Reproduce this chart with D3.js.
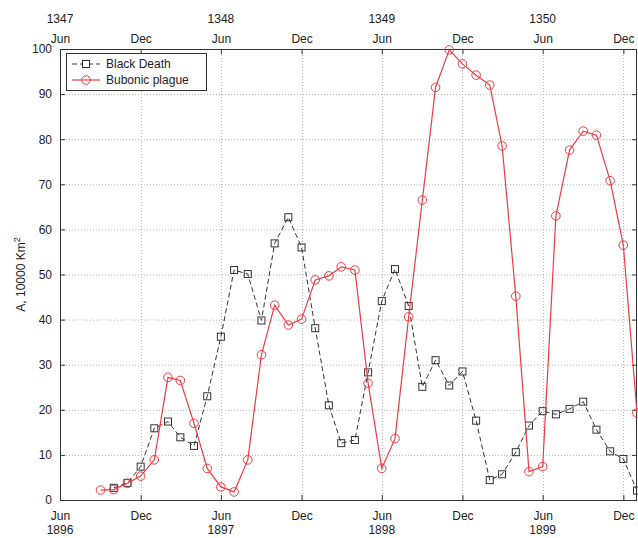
<!DOCTYPE html>
<html><head><meta charset="utf-8">
<script src="https://cdn.jsdelivr.net/npm/d3@7"></script>
<style>
body{margin:0;background:#fff;}
text{font-family:"Liberation Sans",Arial,sans-serif;fill:#222;}
</style></head>
<body><svg id="c" width="638" height="538"></svg>
<script>
const months = ["1896-09","1896-10","1896-11","1896-12",
"1897-01","1897-02","1897-03","1897-04","1897-05","1897-06","1897-07","1897-08","1897-09","1897-10","1897-11","1897-12",
"1898-01","1898-02","1898-03","1898-04","1898-05","1898-06","1898-07","1898-08","1898-09","1898-10","1898-11","1898-12",
"1899-01","1899-02","1899-03","1899-04","1899-05","1899-06","1899-07","1899-08","1899-09","1899-10","1899-11","1899-12",
"1900-01"];
const bubonicPlague = [2.2,2.3,3.7,5.3,8.9,27.2,26.5,17,7,2.9,1.8,
8.9,32.2,43.2,38.8,40.1,48.8,49.7,51.7,51,25.9,
7.0,13.6,40.6,66.5,91.5,99.8,96.7,94.2,92,78.5,
45.2,6.3,7.4,63,77.6,81.8,80.9,70.8,56.5,19.3];
const blackDeath = [null,2.7,3.8,7.4,15.9,17.4,13.9,12.0,23,36.2,51,
50.1,39.8,56.9,62.7,56,38.1,21,12.6,13.3,28.3,
44.1,51.2,43,25.1,31,25.4,28.5,17.6,4.4,5.7,
10.6,16.5,19.7,19,20.2,21.8,15.6,10.8,9.1,2.1];
const tickMonths = ["1896-06","1896-12","1897-06","1897-12","1898-06","1898-12","1899-06","1899-12"];
const tickLabels = ["Jun","Dec","Jun","Dec","Jun","Dec","Jun","Dec"];
const bottomYears = ["1896","1897","1898","1899"];
const topYears = ["1347","1348","1349","1350"];
const yearTickMonths = ["1896-06","1897-06","1898-06","1899-06"];
const yTicks = [0,10,20,30,40,50,60,70,80,90,100];
const seriesNames = ["Black Death","Bubonic plague"];

const parse = d3.timeParse("%Y-%m");
const L=60,R=637,T=49,B=500;
const x = d3.scaleTime().domain([parse("1896-06"),parse("1900-01")]).range([L,R]);
const y = d3.scaleLinear().domain([0,100]).range([B,T]);
const svg = d3.select("#c");
const red="#ee3b42", blk="#333";

// grid
const g = svg.append("g");
g.selectAll(".gy").data(yTicks.slice(1,-1)).enter().append("line")
 .attr("x1",L).attr("x2",R).attr("y1",d=>y(d)+0.5).attr("y2",d=>y(d)+0.5)
 .attr("stroke","#b4b4b4").attr("stroke-width",1).attr("stroke-dasharray","1,2");
g.selectAll(".gx").data(tickMonths.slice(1)).enter().append("line")
 .attr("y1",T).attr("y2",B).attr("x1",d=>Math.round(x(parse(d)))+0.5).attr("x2",d=>Math.round(x(parse(d)))+0.5)
 .attr("stroke","#b4b4b4").attr("stroke-width",1).attr("stroke-dasharray","1,2");

// axes
const tv = tickMonths.map(parse);
const fmt = d=>tickLabels[tv.findIndex(t=>+t===+d)];
const ax = (gen,tx,ty)=>{const a=svg.append("g").attr("transform",`translate(${tx},${ty})`).call(gen);
 a.select(".domain").remove(); a.selectAll("line").attr("stroke","#333"); a.selectAll("text").attr("font-size",12).attr("fill","#222").style("font-family","'Liberation Sans',Arial,sans-serif"); return a;};
ax(d3.axisBottom(x).tickValues(tv).tickFormat(fmt).tickSizeInner(-5).tickSizeOuter(0).tickPadding(11),0,B);
ax(d3.axisTop(x).tickValues(tv).tickFormat(fmt).tickSizeInner(-5).tickSizeOuter(0).tickPadding(6),0,T);
ax(d3.axisLeft(y).tickValues(yTicks).tickSizeInner(-5).tickSizeOuter(0).tickPadding(8),L,0);
ax(d3.axisRight(y).tickValues(yTicks).tickFormat("").tickSizeInner(-5).tickSizeOuter(0),R,0);
svg.append("rect").attr("x",L+0.5).attr("y",T+0.5).attr("width",R-L-1).attr("height",B-T)
 .attr("fill","none").attr("stroke","#333").attr("stroke-width",1);

// year labels
svg.selectAll(".by").data(bottomYears).enter().append("text")
 .attr("x",(d,i)=>x(parse(yearTickMonths[i]))).attr("y",534).attr("text-anchor","middle").attr("font-size",12).text(d=>d);
svg.selectAll(".ty").data(topYears).enter().append("text")
 .attr("x",(d,i)=>x(parse(yearTickMonths[i]))).attr("y",23).attr("text-anchor","middle").attr("font-size",12).text(d=>d);

// y label
const yl = svg.append("text").attr("transform",`translate(25,${(T+B)/2}) rotate(-90)`).attr("text-anchor","middle").attr("font-size",12);
yl.append("tspan").text("A, 10000 Km");
yl.append("tspan").attr("dy",-5).attr("font-size",9).text("2");

// series
const bdData = months.map((m,i)=>({d:parse(m),v:blackDeath[i]})).filter(p=>p.v!==null);
const bpData = months.map((m,i)=>({d:parse(m),v:bubonicPlague[i]}));
const line = d3.line().x(p=>x(p.d)).y(p=>y(p.v));
svg.append("path").datum(bdData).attr("d",line).attr("fill","none").attr("stroke",blk).attr("stroke-width",1).attr("stroke-dasharray","5,3");
svg.selectAll(".sq").data(bdData).enter().append("rect")
 .attr("x",p=>x(p.d)-3.5).attr("y",p=>y(p.v)-3.5).attr("width",7).attr("height",7)
 .attr("fill","none").attr("stroke",blk).attr("stroke-width",1);
svg.append("path").datum(bpData).attr("d",line).attr("fill","none").attr("stroke",red).attr("stroke-width",1.2);
svg.selectAll(".ci").data(bpData).enter().append("circle")
 .attr("cx",p=>x(p.d)).attr("cy",p=>y(p.v)).attr("r",4.3)
 .attr("fill","none").attr("stroke",red).attr("stroke-width",1);

// legend
const lg = svg.append("g");
lg.append("rect").attr("x",66.5).attr("y",53.5).attr("width",140).attr("height",37).attr("fill","#fff").attr("stroke","#333");
lg.append("line").attr("x1",72).attr("x2",100).attr("y1",64).attr("y2",64).attr("stroke",blk).attr("stroke-dasharray","5,3");
lg.append("rect").attr("x",86-3.5).attr("y",64-3.5).attr("width",7).attr("height",7).attr("fill","#fff").attr("stroke",blk);
lg.append("line").attr("x1",72).attr("x2",100).attr("y1",80).attr("y2",80).attr("stroke",red).attr("stroke-width",1.2);
lg.append("circle").attr("cx",86).attr("cy",80).attr("r",4.3).attr("fill","none").attr("stroke",red);
lg.selectAll(".lt").data(seriesNames).enter().append("text").attr("x",106).attr("y",(d,i)=>68+i*16).attr("font-size",12).text(d=>d);
</script></body></html>
